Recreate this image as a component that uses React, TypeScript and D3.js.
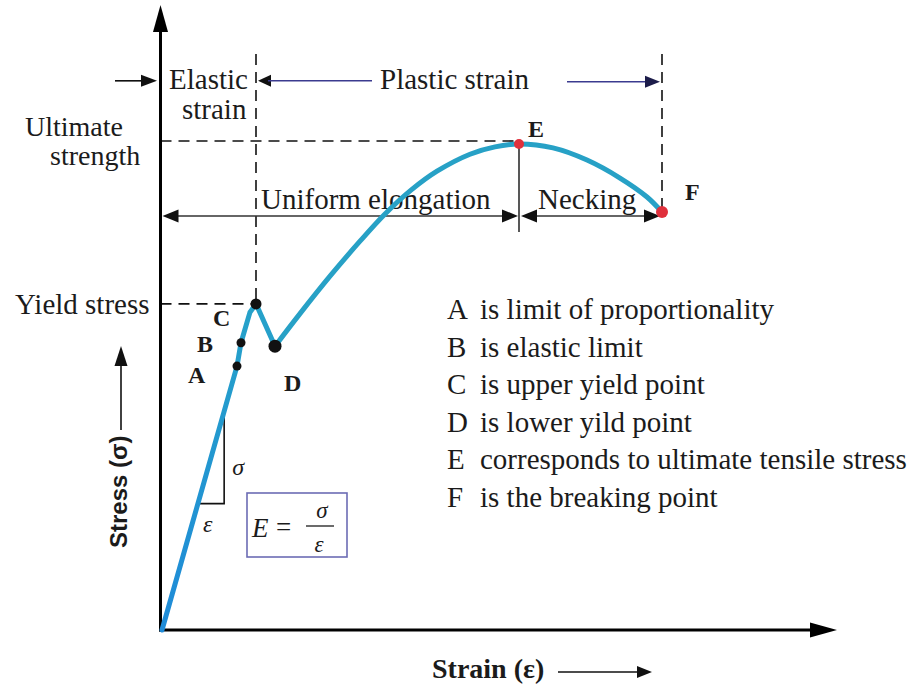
import React from "react";
import * as d3 from "d3";

// Stress–strain curve (arbitrary units: strain 0..100 = origin..F, stress 0..100 = 0..E)
const curveStrain = [0, 15, 15.8, 17.6, 18.8, 22.6, 27.6, 33.6, 39.6, 44.6, 49.8, 55.0, 61.6, 66.6, 71.4, 78.2, 85, 91.6, 97, 100];
const curveStress = [0, 54.3, 59.1, 65.4, 67.1, 58.4, 65.1, 72.8, 80.0, 85.6, 90.5, 94.4, 97.9, 99.4, 100, 99.2, 96.7, 93.0, 89.1, 86.0];
const elasticEndIndex = 5; // linear part up to D
const pointNames = ["A", "B", "C", "D", "E", "F"];
const pointIndex = [1, 2, 4, 5, 14, 19];
const legendTexts = [
  "is limit of proportionality",
  "is elastic limit",
  "is upper yield point",
  "is lower yild point",
  "corresponds to ultimate tensile stress",
  "is the breaking point",
];
const triangleStress = [26, 45];

const SERIF = "'Liberation Serif', 'Times New Roman', serif";
const SANS = "'Liberation Sans', Arial, sans-serif";

const x = d3.scaleLinear().domain([0, 100]).range([162, 662]);
const y = d3.scaleLinear().domain([0, 100]).range([630, 144]);

function head(tx: number, ty: number, dir: string, len = 16, half = 6.5) {
  if (dir === "r") return `M${tx},${ty}L${tx - len},${ty - half}L${tx - len},${ty + half}Z`;
  if (dir === "l") return `M${tx},${ty}L${tx + len},${ty - half}L${tx + len},${ty + half}Z`;
  if (dir === "u") return `M${tx},${ty}L${tx - half},${ty + len}L${tx + half},${ty + len}Z`;
  return `M${tx},${ty}L${tx - half},${ty - len}L${tx + half},${ty - len}Z`;
}

export default function App() {
  const pts: [number, number][] = curveStrain.map((s, i) => [x(s), y(curveStress[i])]);
  const elastic = d3.line().curve(d3.curveLinear)(pts.slice(0, elasticEndIndex + 1)) || "";
  const plastic = d3.line().curve(d3.curveCatmullRom.alpha(0.5))(pts.slice(elasticEndIndex)) || "";

  const [Cx, Cy] = pts[pointIndex[2]];
  const [Ex, Ey] = pts[pointIndex[4]];
  const [Fx, Fy] = pts[pointIndex[5]];
  const x0 = x(0);
  const y0 = y(0);
  const axisX = x0 - 1.5;
  const topArrowY = y(113);
  const dashTopY = y(118.5);
  const uniY = y(85.2);
  const eLineBottom = y(81.9);

  // slope triangle on elastic line
  const triX = (s: number) => x((s / curveStress[1]) * curveStrain[1]);
  const tLowX = triX(triangleStress[0]);
  const tHighX = triX(triangleStress[1]);
  const tLowY = y(triangleStress[0]);
  const tHighY = y(triangleStress[1]);

  const labelOffsets: [number, number][] = [
    [-49, 17], [-44, 9], [-43, 22], [9, 45], [9, -7], [23, -12],
  ];

  const txt = { fontFamily: SERIF, fill: "#1b1b1b" } as React.CSSProperties;

  return (
    <svg width={917} height={685} style={{ position: "absolute", left: 0, top: 0, background: "#fff" }}>
      <defs>
        <linearGradient id="cg" gradientUnits="userSpaceOnUse" x1="0" y1={y0} x2="0" y2={Cy}>
          <stop offset="0" stopColor="#1f8bd8" />
          <stop offset="1" stopColor="#26a2c9" />
        </linearGradient>
      </defs>
      <rect x={0} y={0} width={917} height={685} fill="#fff" />

      {/* dashed guides */}
      <g stroke="#111" strokeWidth={1.6} strokeDasharray="11,7" fill="none">
        <line x1={axisX} y1={Ey - 3} x2={Ex} y2={Ey - 3} />
        <line x1={axisX} y1={Cy} x2={Cx} y2={Cy} />
        <line x1={Cx} y1={dashTopY} x2={Cx} y2={Cy} />
        <line x1={Fx} y1={dashTopY} x2={Fx} y2={Fy} />
      </g>
      <line x1={Ex} y1={Ey} x2={Ex} y2={eLineBottom} stroke="#111" strokeWidth={1.4} />

      {/* top arrows */}
      <line x1={115} y1={topArrowY} x2={146} y2={topArrowY} stroke="#111" strokeWidth={1.6} />
      <path d={head(157, topArrowY, "r", 16, 6)} fill="#111" />
      <path d={head(Cx + 2, topArrowY, "l", 13, 6)} fill="#111" />
      <line x1={Cx + 12} y1={topArrowY} x2={372} y2={topArrowY} stroke="#3b3b8f" strokeWidth={1.6} />
      <line x1={567} y1={topArrowY + 1} x2={648} y2={topArrowY + 1} stroke="#3b3b8f" strokeWidth={1.6} />
      <path d={head(Fx - 2, topArrowY + 1, "r", 15, 6)} fill="#1c1c4a" />

      {/* elongation arrows */}
      <g stroke="#333" strokeWidth={1.5}>
        <line x1={axisX + 10} y1={uniY} x2={Ex - 10} y2={uniY} />
        <line x1={Ex + 12} y1={uniY} x2={Fx - 10} y2={uniY} />
      </g>
      <g fill="#111">
        <path d={head(axisX + 2, uniY, "l", 16, 6.5)} />
        <path d={head(Ex - 1, uniY, "r", 16, 6.5)} />
        <path d={head(Ex + 2, uniY, "l", 16, 6.5)} />
        <path d={head(Fx - 2, uniY, "r", 16, 6.5)} />
      </g>

      {/* text annotations */}
      <g style={txt} fontSize={29}>
        <text x={169} y={89}>Elastic</text>
        <text x={182} y={119}>strain</text>
        <text x={380} y={89}>Plastic strain</text>
        <text x={25} y={136} fontSize={28}>Ultimate</text>
        <text x={50} y={165} fontSize={28}>strength</text>
        <text x={261} y={209}>Uniform elongation</text>
        <text x={538} y={209}>Necking</text>
        <text x={15} y={314}>Yield stress</text>
      </g>

      {/* slope triangle */}
      <path d={`M${tLowX},${tLowY}L${tHighX},${tLowY}L${tHighX},${tHighY}`} fill="none" stroke="#111" strokeWidth={1.6} />
      <text x={tHighX + 8} y={475} style={txt} fontSize={24} fontStyle="italic">σ</text>
      <text x={tLowX + 5} y={532} style={txt} fontSize={24} fontStyle="italic">ε</text>

      {/* formula box */}
      <rect x={247} y={493} width={100} height={64} fill="none" stroke="#6c6cb4" strokeWidth={1.6} />
      <g style={txt}>
        <text x={252} y={537} fontSize={27} fontStyle="italic">E</text>
        <text x={276} y={536} fontSize={27}>=</text>
        <line x1={306} y1={526} x2={334} y2={526} stroke="#1b1b1b" strokeWidth={1.3} />
        <text x={322} y={518} fontSize={23} fontStyle="italic" textAnchor="middle">σ</text>
        <text x={319} y={552} fontSize={23} fontStyle="italic" textAnchor="middle">ε</text>
      </g>

      {/* axes */}
      <line x1={axisX} y1={y0 + 1.5} x2={axisX} y2={30} stroke="#000" strokeWidth={3} />
      <path d={head(axisX, 5, "u", 27, 7.5)} fill="#000" />
      <line x1={axisX - 1.5} y1={y0} x2={812} y2={y0} stroke="#000" strokeWidth={3} />
      <path d={head(837, y0, "r", 27, 7.5)} fill="#000" />

      {/* curve */}
      <path d={elastic} fill="none" stroke="url(#cg)" strokeWidth={5} strokeLinejoin="round" strokeLinecap="round" />
      <path d={plastic} fill="none" stroke="#27a1c6" strokeWidth={5} strokeLinejoin="round" strokeLinecap="round" />

      {/* points */}
      {pointIndex.map((idx, i) => {
        const [px, py] = pts[idx];
        const red = i >= 4;
        const r = [4.5, 4.5, 5.5, 6.5, 5, 6][i];
        return <circle key={i} cx={px} cy={py} r={r} fill={red ? "#e0303c" : "#111"} />;
      })}
      {pointIndex.map((idx, i) => {
        const [px, py] = pts[idx];
        return (
          <text key={"l" + i} x={px + labelOffsets[i][0]} y={py + labelOffsets[i][1]} style={txt} fontSize={24} fontWeight="bold">
            {pointNames[i]}
          </text>
        );
      })}

      {/* legend */}
      <g style={txt} fontSize={29}>
        {legendTexts.map((t, i) => (
          <g key={i}>
            <text x={447} y={319 + i * 37.6}>{pointNames[i]}</text>
            <text x={480} y={319 + i * 37.6}>{t}</text>
          </g>
        ))}
      </g>

      {/* axis titles */}
      <text x={432} y={678} style={txt} fontSize={28} fontWeight="bold">Strain (ε)</text>
      <line x1={558} y1={672} x2={638} y2={672} stroke="#111" strokeWidth={1.6} />
      <path d={head(652, 672, "r", 15, 6)} fill="#111" />
      <text transform="translate(127,548) rotate(-90)" style={{ fontFamily: SANS, fill: "#1b1b1b" }} fontSize={24} fontWeight="bold">Stress (σ)</text>
      <line x1={121} y1={430} x2={121} y2={360} stroke="#111" strokeWidth={1.6} />
      <path d={head(121, 346, "u", 20, 6.5)} fill="#111" />
    </svg>
  );
}
